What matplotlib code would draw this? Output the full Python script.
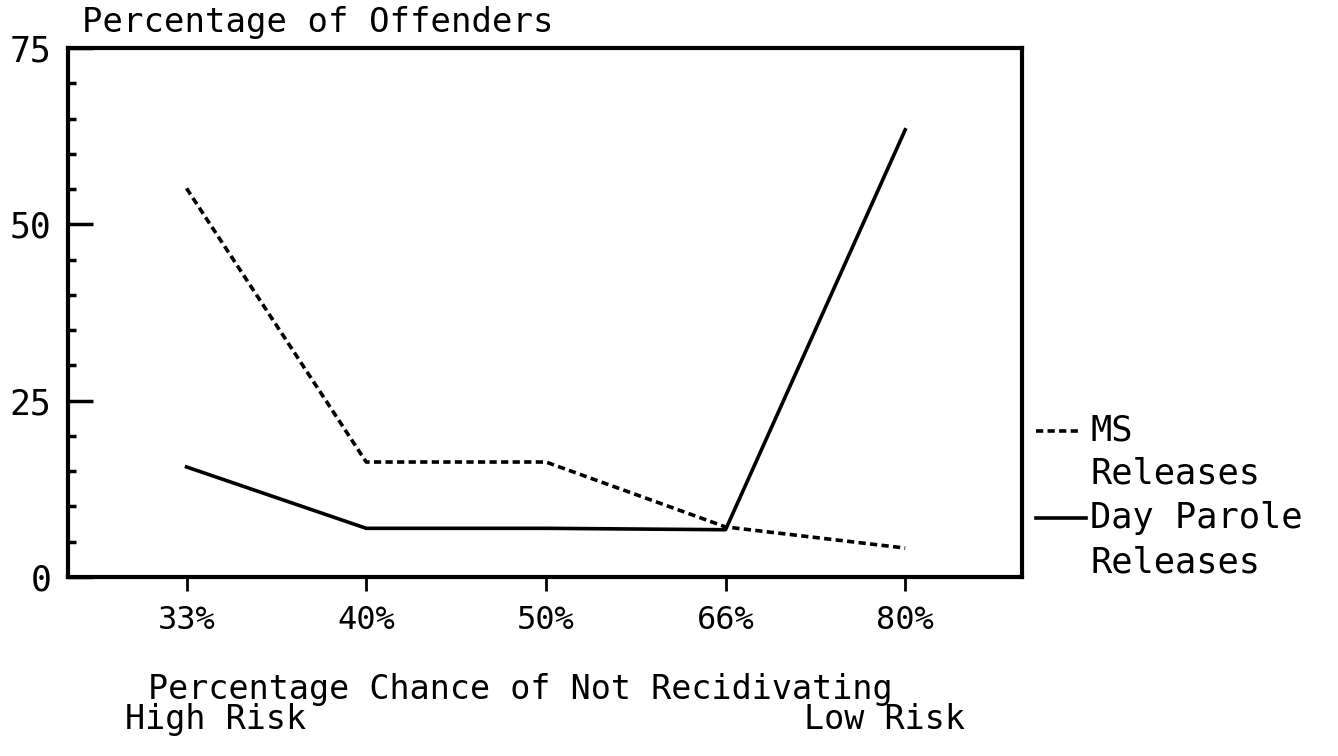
import numpy as np
import matplotlib
matplotlib.use('Agg')
import matplotlib.pyplot as plt
from matplotlib.ticker import MultipleLocator

categories = ['33%', '40%', '50%', '66%', '80%']
ms_releases = [55.1, 16.3, 16.3, 7.1, 4.1]
day_parole = [15.6, 6.9, 6.9, 6.7, 63.4]

plt.rcParams['font.family'] = 'DejaVu Sans Mono'

fig = plt.figure(figsize=(13.38, 7.56), dpi=100)
ax = fig.add_axes([0.0508, 0.2368, 0.7130, 0.6997])

dash = (0, (2, 1.2))
x = np.arange(len(categories))
ax.plot(x, ms_releases, color='black', lw=2.6, linestyle=dash)
ax.plot(x, day_parole, color='black', lw=2.6)

ax.set_xlim(-0.66, 4.65)
ax.set_ylim(0, 75)
ax.set_xticks(x)
ax.set_xticklabels(categories, fontsize=23)
ax.set_yticks([0, 25, 50, 75])
ax.yaxis.set_minor_locator(MultipleLocator(5))
ax.tick_params(axis='y', which='major', direction='in', length=18, width=2.5,
               labelsize=25, pad=12)
ax.tick_params(axis='y', which='minor', direction='in', length=6, width=2.5)
ax.tick_params(axis='x', which='major', direction='out', length=10, width=2,
               pad=10)
for s in ax.spines.values():
    s.set_linewidth(3)

fig.text(0.0613, 0.958, 'Percentage of Offenders', fontsize=24.5, va='baseline', ha='left')
fig.text(0.1106, 0.076, 'Percentage Chance of Not Recidivating', fontsize=24,
         va='baseline', ha='left')
fig.text(0.0934, 0.036, 'High Risk', fontsize=24, va='baseline', ha='left')
fig.text(0.601, 0.036, 'Low Risk', fontsize=24, va='baseline', ha='left')

# legend drawn by hand at right of the axes
fig.lines.append(plt.Line2D([0.774, 0.808], [0.430, 0.430], color='black', lw=2.6,
                            linestyle=dash, transform=fig.transFigure))
fig.lines.append(plt.Line2D([0.774, 0.812], [0.315, 0.315], color='black', lw=2.6,
                            transform=fig.transFigure))
fig.text(0.815, 0.430, 'MS', fontsize=25.5, va='center', ha='left')
fig.text(0.815, 0.374, 'Releases', fontsize=25.5, va='center', ha='left')
fig.text(0.815, 0.315, 'Day Parole', fontsize=25.5, va='center', ha='left')
fig.text(0.815, 0.256, 'Releases', fontsize=25.5, va='center', ha='left')

fig.savefig('out.png', dpi=100)
